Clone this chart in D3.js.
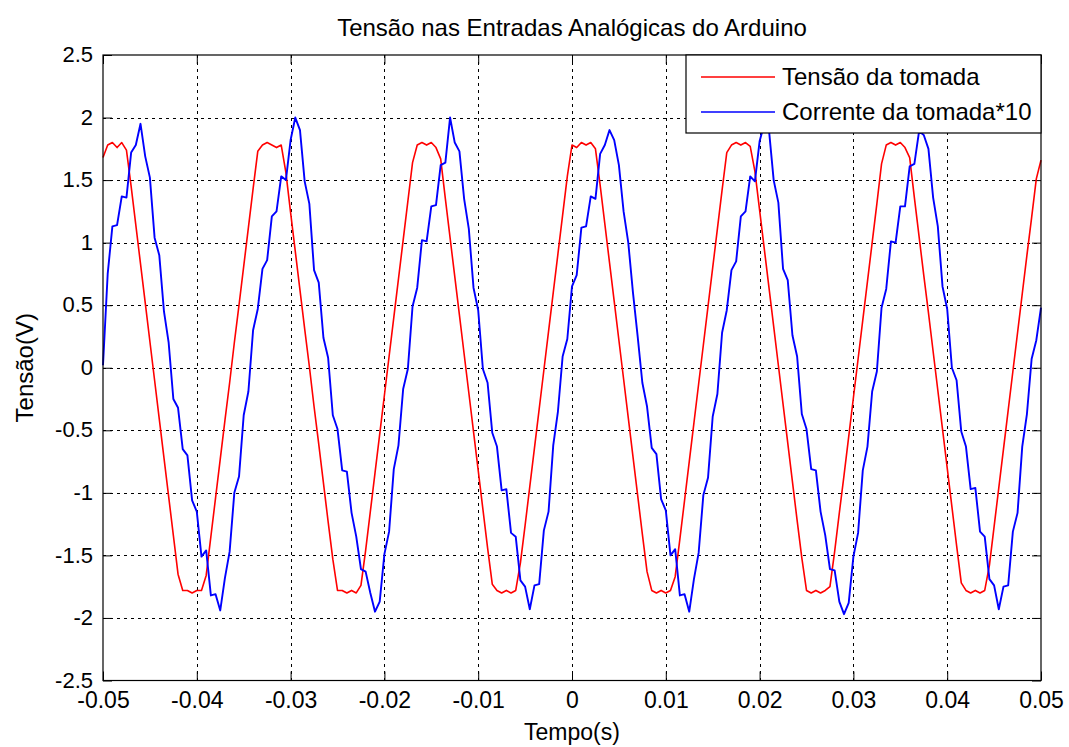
<!DOCTYPE html>
<html lang="pt">
<head>
    <meta charset="UTF-8">
    <script type="text/javascript" src="https://cdn.jsdelivr.net/npm/d3@7/dist/d3.min.js"></script>
    <title>Tensão nas Entradas Analógicas do Arduino</title>
    <style>
        body { margin: 0; background: #fff; }
        text { font-family: Arial, "Liberation Sans", sans-serif; fill: #000; }
    </style>
</head>
<body>
</body>
<script>

    // amostras a cada 0.5 ms, de -0.05 s a 0.05 s
    const t0 = -0.05, dt = 0.0005;

    const tensao = [
        1.68, 1.78, 1.80, 1.76, 1.80, 1.74, 1.45, 1.14, 0.83, 0.52,
        0.21, -0.10, -0.41, -0.72, -1.03, -1.34, -1.65, -1.78, -1.78, -1.80,
        -1.78, -1.78, -1.66, -1.35, -1.04, -0.73, -0.42, -0.12, 0.20, 0.50,
        0.81, 1.12, 1.43, 1.73, 1.78, 1.80, 1.78, 1.76, 1.78, 1.56,
        1.24, 0.93, 0.62, 0.31, 0.01, -0.31, -0.61, -0.92, -1.23, -1.53,
        -1.78, -1.78, -1.80, -1.78, -1.80, -1.74, -1.46, -1.15, -0.84, -0.53,
        -0.22, 0.09, 0.40, 0.71, 1.02, 1.33, 1.64, 1.78, 1.80, 1.78,
        1.80, 1.76, 1.67, 1.35, 1.04, 0.73, 0.42, 0.11, -0.20, -0.51,
        -0.82, -1.13, -1.44, -1.73, -1.78, -1.80, -1.78, -1.80, -1.78, -1.56,
        -1.26, -0.95, -0.64, -0.33, -0.02, 0.29, 0.60, 0.91, 1.22, 1.53,
        1.78, 1.76, 1.80, 1.78, 1.80, 1.75, 1.46, 1.15, 0.84, 0.53,
        0.22, -0.09, -0.40, -0.71, -1.02, -1.33, -1.63, -1.78, -1.80, -1.78,
        -1.80, -1.78, -1.67, -1.37, -1.06, -0.75, -0.44, -0.13, 0.18, 0.49,
        0.80, 1.11, 1.42, 1.72, 1.78, 1.80, 1.78, 1.80, 1.77, 1.57,
        1.26, 0.95, 0.64, 0.33, 0.02, -0.29, -0.60, -0.91, -1.22, -1.52,
        -1.78, -1.80, -1.78, -1.80, -1.78, -1.75, -1.47, -1.16, -0.86, -0.55,
        -0.24, 0.07, 0.38, 0.69, 1.00, 1.31, 1.63, 1.78, 1.80, 1.78,
        1.80, 1.76, 1.68, 1.36, 1.05, 0.74, 0.44, 0.13, -0.18, -0.49,
        -0.80, -1.11, -1.42, -1.72, -1.78, -1.80, -1.78, -1.80, -1.78, -1.58,
        -1.27, -0.96, -0.65, -0.34, -0.03, 0.28, 0.59, 0.90, 1.20, 1.51,
        1.66
    ];

    const corrente = [
        0.02, 0.75, 1.13, 1.14, 1.37, 1.36, 1.72, 1.78, 1.95, 1.69,
        1.52, 1.04, 0.90, 0.45, 0.20, -0.25, -0.32, -0.65, -0.70, -1.06,
        -1.15, -1.51, -1.46, -1.82, -1.81, -1.94, -1.68, -1.47, -1.00, -0.87,
        -0.38, -0.19, 0.30, 0.47, 0.79, 0.86, 1.21, 1.25, 1.53, 1.50,
        1.82, 2.00, 1.90, 1.49, 1.31, 0.78, 0.68, 0.24, 0.08, -0.38,
        -0.49, -0.82, -0.83, -1.16, -1.35, -1.61, -1.63, -1.80, -1.95, -1.87,
        -1.49, -1.31, -0.81, -0.62, -0.17, -0.01, 0.49, 0.64, 1.02, 1.01,
        1.29, 1.30, 1.62, 1.64, 2.00, 1.80, 1.73, 1.35, 1.11, 0.64,
        0.46, -0.01, -0.12, -0.52, -0.63, -0.98, -0.97, -1.32, -1.35, -1.70,
        -1.75, -1.93, -1.74, -1.73, -1.30, -1.15, -0.62, -0.35, 0.09, 0.23,
        0.65, 0.74, 1.12, 1.13, 1.37, 1.35, 1.71, 1.78, 1.90, 1.82,
        1.62, 1.25, 1.00, 0.60, 0.25, -0.12, -0.31, -0.64, -0.69, -1.05,
        -1.14, -1.50, -1.45, -1.82, -1.81, -1.95, -1.69, -1.48, -1.02, -0.88,
        -0.39, -0.21, 0.28, 0.46, 0.78, 0.85, 1.21, 1.25, 1.53, 1.49,
        1.81, 1.95, 1.90, 1.50, 1.32, 0.79, 0.70, 0.26, 0.09, -0.37,
        -0.49, -0.81, -0.82, -1.15, -1.34, -1.61, -1.62, -1.87, -1.97, -1.88,
        -1.51, -1.32, -0.82, -0.63, -0.19, -0.03, 0.48, 0.63, 1.01, 1.00,
        1.29, 1.29, 1.61, 1.63, 1.89, 1.86, 1.75, 1.36, 1.13, 0.65,
        0.47, 0.00, -0.10, -0.51, -0.63, -0.97, -0.96, -1.31, -1.35, -1.69,
        -1.74, -1.93, -1.75, -1.74, -1.31, -1.16, -0.63, -0.37, 0.07, 0.22,
        0.48
    ];

    const xTicks = [-0.05, -0.04, -0.03, -0.02, -0.01, 0, 0.01, 0.02, 0.03, 0.04, 0.05];
    const xTickLabels = ["-0.05", "-0.04", "-0.03", "-0.02", "-0.01", "0", "0.01", "0.02", "0.03", "0.04", "0.05"];
    const yTicks = [-2.5, -2, -1.5, -1, -0.5, 0, 0.5, 1, 1.5, 2, 2.5];
    const yTickLabels = ["-2.5", "-2", "-1.5", "-1", "-0.5", "0", "0.5", "1", "1.5", "2", "2.5"];

    const seriesNames = ["Tensão da tomada", "Corrente da tomada*10"];
    const seriesColors = ["#ff0000", "#0000ff"];

    let width = 1069,
        height = 747,
        mLeft = 103,
        mRight = 1041,
        mTop = 55,
        mBottom = 680.5,
        tick = 9;

    let x = d3.scaleLinear()
        .domain([-0.05, 0.05])
        .range([mLeft, mRight]);
    let y = d3.scaleLinear()
        .domain([-2.5, 2.5])
        .range([mBottom, mTop]);

    let svg = d3.select("body")
        .append("svg")
        .attr("width", width)
        .attr("height", height)
        .style("display", "block");

    svg.append("rect")
        .attr("width", width)
        .attr("height", height)
        .attr("fill", "#fff");

    // grade tracejada
    let grid = svg.append("g").attr("class", "grid")
        .attr("stroke", "#000")
        .attr("stroke-width", 1)
        .attr("stroke-dasharray", "3,4");
    grid.selectAll("line.gx")
        .data(xTicks.slice(1, -1))
        .enter().append("line")
        .attr("class", "gx")
        .attr("x1", d => Math.round(x(d)) + 0.5)
        .attr("x2", d => Math.round(x(d)) + 0.5)
        .attr("y1", mTop)
        .attr("y2", mBottom);
    grid.selectAll("line.gy")
        .data(yTicks.slice(1, -1))
        .enter().append("line")
        .attr("class", "gy")
        .attr("x1", mLeft)
        .attr("x2", mRight)
        .attr("y1", d => Math.round(y(d)) + 0.5)
        .attr("y2", d => Math.round(y(d)) + 0.5);

    // eixos
    let fmtX = d => xTickLabels[xTicks.indexOf(d)];
    let fmtY = d => yTickLabels[yTicks.indexOf(d)];

    let axB = svg.append("g")
        .attr("transform", `translate(0,${mBottom})`)
        .call(d3.axisBottom(x).tickValues(xTicks).tickFormat(fmtX).tickSizeInner(-tick).tickSizeOuter(0).tickPadding(11));
    let axL = svg.append("g")
        .attr("transform", `translate(${mLeft},0)`)
        .call(d3.axisLeft(y).tickValues(yTicks).tickFormat(fmtY).tickSizeInner(-tick).tickSizeOuter(0).tickPadding(10));
    svg.append("g")
        .attr("transform", `translate(0,${mTop})`)
        .call(d3.axisTop(x).tickValues(xTicks).tickFormat("").tickSizeInner(-tick).tickSizeOuter(0));
    svg.append("g")
        .attr("transform", `translate(${mRight},0)`)
        .call(d3.axisRight(y).tickValues(yTicks).tickFormat("").tickSizeInner(-tick).tickSizeOuter(0));

    svg.selectAll(".domain").remove();
    svg.selectAll(".tick line").attr("stroke", "#000");
    svg.selectAll(".tick text")
        .style("font-family", "Arial, 'Liberation Sans', sans-serif")
        .attr("fill", "#000");
    axB.selectAll(".tick text").style("font-size", "23px");
    axL.selectAll(".tick text").style("font-size", "22px").attr("dy", "0.3em");

    // linhas
    let line = d3.line()
        .x((d, i) => x(t0 + i * dt))
        .y(d => y(d));

    svg.selectAll("path.serie")
        .data([tensao, corrente])
        .enter()
        .append("path")
        .attr("class", "serie")
        .attr("d", d => line(d))
        .attr("fill", "none")
        .attr("stroke", (d, i) => seriesColors[i])
        .attr("stroke-width", (d, i) => i ? 1.9 : 1.6)
        .attr("stroke-linejoin", "round");

    // caixa do gráfico
    svg.append("rect")
        .attr("x", mLeft)
        .attr("y", mTop)
        .attr("width", mRight - mLeft)
        .attr("height", mBottom - mTop)
        .attr("fill", "none")
        .attr("stroke", "#000")
        .attr("stroke-width", 1.2);

    // legenda
    let legend = svg.append("g").attr("transform", `translate(686,${mTop})`);
    legend.append("rect")
        .attr("width", mRight - 686)
        .attr("height", 78)
        .attr("fill", "#fff")
        .attr("stroke", "#000")
        .attr("stroke-width", 1.2);
    let item = legend.selectAll("g.item")
        .data(seriesNames)
        .enter().append("g")
        .attr("class", "item")
        .attr("transform", (d, i) => `translate(0,${22 + i * 35})`);
    item.append("line")
        .attr("x1", 15)
        .attr("x2", 89)
        .attr("stroke", (d, i) => seriesColors[i])
        .attr("stroke-width", 1.6);
    item.append("text")
        .attr("x", 96)
        .attr("dy", "0.35em")
        .style("font-size", "24px")
        .text(d => d);

    // títulos
    svg.append("text")
        .attr("x", (mLeft + mRight) / 2)
        .attr("y", 36)
        .attr("text-anchor", "middle")
        .style("font-size", "24px")
        .text("Tensão nas Entradas Analógicas do Arduino");

    svg.append("text")
        .attr("x", (mLeft + mRight) / 2)
        .attr("y", 740)
        .attr("text-anchor", "middle")
        .style("font-size", "23px")
        .text("Tempo(s)");

    svg.append("text")
        .attr("transform", `translate(33,${y(0)}) rotate(-90)`)
        .attr("text-anchor", "middle")
        .style("font-size", "24px")
        .text("Tensão(V)");

</script>
</html>
